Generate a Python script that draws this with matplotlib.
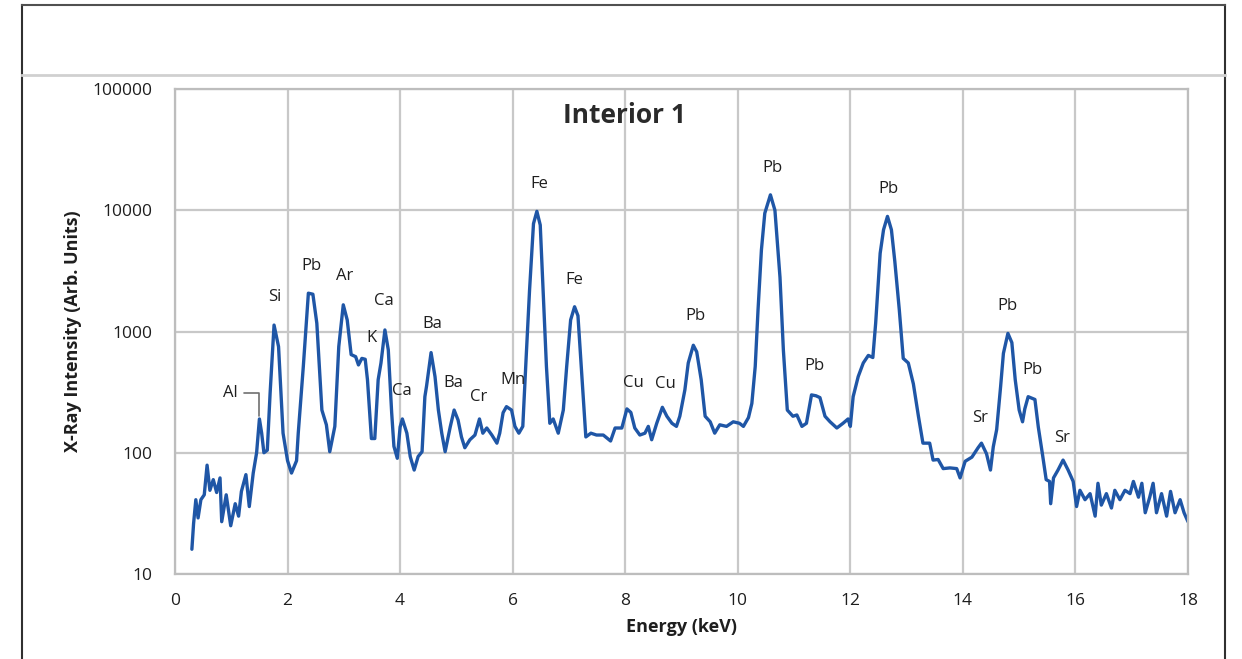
import matplotlib
matplotlib.use("Agg")
import matplotlib.pyplot as plt
from matplotlib.ticker import FixedLocator, FixedFormatter
from matplotlib.lines import Line2D

plt.rcParams['font.family'] = ['Open Sans', 'DejaVu Sans']

# ---- data ----
energy_kev = [
    0.30, 0.33, 0.37, 0.41, 0.46, 0.52, 0.57, 0.62, 0.68, 0.74, 0.80, 0.83, 0.91, 0.99,
    1.07, 1.13, 1.18, 1.26, 1.32, 1.39, 1.45, 1.50, 1.54, 1.58, 1.64, 1.69, 1.76, 1.84,
    1.92, 2.00, 2.07, 2.16, 2.19, 2.28, 2.37, 2.45, 2.52, 2.61, 2.69, 2.75, 2.84, 2.91,
    2.99, 3.06, 3.13, 3.21, 3.26, 3.32, 3.38, 3.42, 3.49, 3.55, 3.61, 3.66, 3.73, 3.79,
    3.85, 3.89, 3.95, 4.00, 4.04, 4.12, 4.18, 4.25, 4.32, 4.39, 4.44, 4.47, 4.55, 4.62,
    4.68, 4.74, 4.80, 4.89, 4.96, 5.03, 5.09, 5.15, 5.24, 5.33, 5.41, 5.47, 5.54, 5.63,
    5.72, 5.77, 5.83, 5.89, 5.98, 6.04, 6.11, 6.18, 6.24, 6.30, 6.37, 6.43, 6.49, 6.54,
    6.60, 6.66, 6.72, 6.81, 6.90, 6.96, 7.03, 7.10, 7.16, 7.23, 7.30, 7.39, 7.49, 7.61,
    7.74, 7.82, 7.94, 8.03, 8.10, 8.17, 8.26, 8.35, 8.41, 8.47, 8.56, 8.66, 8.74, 8.83,
    8.91, 8.97, 9.06, 9.12, 9.21, 9.27, 9.35, 9.42, 9.51, 9.59, 9.68, 9.80, 9.92, 10.03,
    10.10, 10.19, 10.25, 10.31, 10.36, 10.42, 10.48, 10.58, 10.66, 10.75, 10.81, 10.88,
    10.98, 11.05, 11.14, 11.22, 11.31, 11.39, 11.46, 11.55, 11.64, 11.76, 11.87, 11.96,
    12.00, 12.05, 12.14, 12.23, 12.32, 12.40, 12.45, 12.53, 12.59, 12.66, 12.73, 12.79,
    12.87, 12.94, 13.03, 13.12, 13.21, 13.29, 13.41, 13.47, 13.56, 13.65, 13.77, 13.89,
    13.95, 14.04, 14.16, 14.27, 14.33, 14.42, 14.49, 14.54, 14.60, 14.67, 14.72, 14.80,
    14.87, 14.93, 15.00, 15.06, 15.10, 15.16, 15.28, 15.34, 15.42, 15.48, 15.54, 15.56,
    15.61, 15.69, 15.78, 15.87, 15.96, 16.02, 16.08, 16.17, 16.26, 16.35, 16.40, 16.46,
    16.55, 16.64, 16.70, 16.79, 16.88, 16.97, 17.03, 17.12, 17.18, 17.24, 17.32, 17.38,
    17.44, 17.53, 17.62, 17.69, 17.77, 17.86, 17.93, 18.00,
]
intensity = [
    16, 26, 41, 29, 41, 45, 79, 49, 60, 47, 62, 27, 45, 25,
    38, 30, 48, 66, 36, 68, 100, 190, 145, 100, 105, 310, 1130, 750,
    145, 86, 68, 86, 145, 515, 2070, 2030, 1170, 225, 170, 102, 165, 750,
    1660, 1245, 645, 620, 530, 600, 590, 400, 131, 131, 400, 550, 1030, 705,
    214, 113, 90, 163, 190, 145, 93, 72, 93, 102, 290, 355, 670, 425,
    225, 145, 102, 163, 225, 186, 135, 110, 128, 140, 190, 145, 160, 140,
    120, 145, 214, 240, 225, 165, 145, 165, 615, 2190, 7750, 9800, 7550, 2190,
    515, 175, 190, 145, 225, 515, 1245, 1600, 1350, 425, 135, 145, 140, 140,
    125, 160, 160, 230, 215, 160, 140, 145, 165, 128, 175, 237, 200, 175,
    165, 200, 330, 550, 770, 680, 400, 200, 180, 145, 170, 165, 180, 175,
    165, 195, 255, 515, 1510, 4700, 9450, 13400, 10000, 2800, 705, 225,
    200, 205, 165, 175, 300, 295, 285, 200, 180, 160, 175, 190,
    165, 290, 425, 550, 635, 610, 1170, 4420, 6900, 8900, 6900, 3800,
    1510, 600, 550, 370, 200, 120, 120, 87, 88, 74, 75, 74,
    62, 85, 92, 110, 120, 98, 72, 112, 155, 350, 660, 965,
    810, 400, 225, 180, 230, 290, 275, 163, 93, 60, 58, 38,
    62, 72, 87, 72, 58, 36, 49, 41, 46, 30, 56, 37,
    46, 35, 49, 41, 49, 46, 58, 43, 56, 32, 43, 56,
    32, 46, 30, 48, 32, 41, 32, 27,
]

peak_labels = ["Al", "Si", "Pb", "Ar", "Ca", "K", "Ca", "Ba", "Ba", "Cr", "Mn", "Fe",
               "Fe", "Cu", "Cu", "Pb", "Pb", "Pb", "Pb", "Sr", "Pb", "Pb", "Sr"]
label_energy = [0.98, 1.78, 2.43, 3.02, 3.71, 3.50, 4.03, 4.57, 4.94, 5.40, 6.01, 6.47,
                7.09, 8.14, 8.71, 9.24, 10.61, 11.37, 12.67, 14.30, 14.80, 15.23, 15.76]
label_intensity = [311, 1927, 3470, 2870, 1785, 884, 323, 1153, 376, 288, 398, 16470,
                   2660, 376, 369, 1343, 22310, 519, 14970, 194, 1622, 481, 132]

al_leader_target = (1.50, 200)

x_ticks = [0, 2, 4, 6, 8, 10, 12, 14, 16, 18]
y_ticks = [10, 100, 1000, 10000, 100000]
y_tick_labels = ["10", "100", "1000", "10000", "100000"]

# ---- figure ----
fig = plt.figure(figsize=(12.42, 6.59), dpi=100)
ax = fig.add_axes([175/1242, 1 - 574/659, (1188 - 175)/1242, (574 - 89)/659])

ax.plot(energy_kev, intensity, color="#1f56a6", linewidth=2.4,
        solid_joinstyle="round", solid_capstyle="round")
ax.set_yscale("log")
ax.set_xlim(0, 18)
ax.set_ylim(10, 100000)

ax.xaxis.set_major_locator(FixedLocator(x_ticks))
ax.set_xticklabels([str(t) for t in x_ticks])
ax.yaxis.set_major_locator(FixedLocator(y_ticks))
ax.yaxis.set_major_formatter(FixedFormatter(y_tick_labels))
ax.yaxis.set_minor_locator(FixedLocator([]))
ax.tick_params(axis="both", length=0, labelsize=12.5, colors="#1e1e1e")
ax.tick_params(axis="y", pad=16)
ax.tick_params(axis="x", pad=14)

ax.grid(True, which="major", color="#c8c8c8", linewidth=1.6)
ax.set_axisbelow(True)
for s in ax.spines.values():
    s.set_color("#bdbdbd")
    s.set_linewidth(1.6)

ax.set_xlabel("Energy (keV)", fontsize=13, fontweight="bold", labelpad=6, color="#1e1e1e")
ax.set_ylabel("X-Ray Intensity (Arb. Units)", fontsize=13, fontweight="bold",
              labelpad=8, color="#1e1e1e")

ax.text(7.99, 61000, "Interior 1", fontsize=19, fontweight="bold", color="#2a2a2a",
        ha="center", va="center")

for lab, e, v in zip(peak_labels, label_energy, label_intensity):
    if lab == "Al" and e < 1.2:
        ax.annotate(lab, xy=al_leader_target, xytext=(e, v), fontsize=12, color="#1e1e1e",
                    ha="center", va="center",
                    arrowprops=dict(arrowstyle="-", color="#707070", lw=1.2,
                                    connectionstyle="angle,angleA=0,angleB=90,rad=0",
                                    shrinkA=3, shrinkB=0))
    else:
        ax.text(e, v, lab, fontsize=12, color="#1e1e1e", ha="center", va="center")

# outer frame like the original screenshot
fig.add_artist(Line2D([22/1242, 22/1242], [0, 1 - 5/659], color="#303030", lw=1.5))
fig.add_artist(Line2D([1225/1242, 1225/1242], [0, 1 - 5/659], color="#303030", lw=1.5))
fig.add_artist(Line2D([22/1242, 1225/1242], [1 - 5/659, 1 - 5/659], color="#505050", lw=1.5))
fig.add_artist(Line2D([22/1242, 1225/1242], [1 - 75/659, 1 - 75/659], color="#d0d0d0", lw=2))

fig.savefig("out.png", dpi=100)
